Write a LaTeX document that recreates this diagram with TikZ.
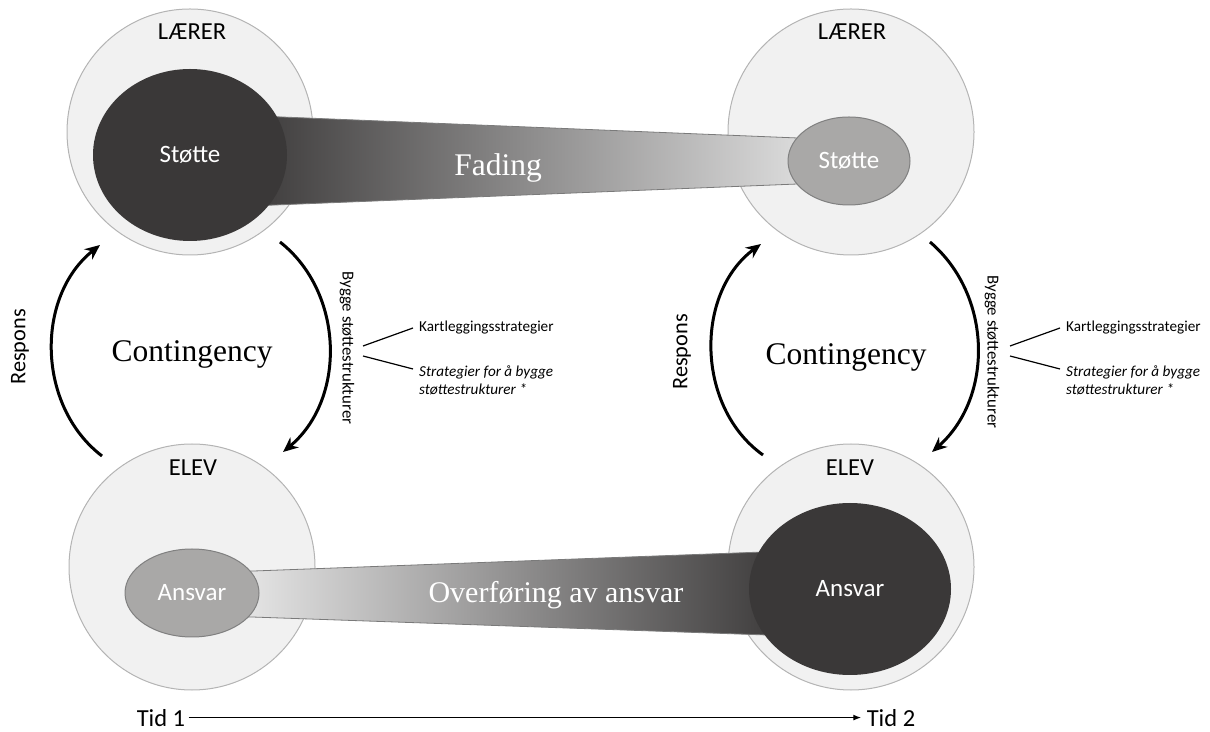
\documentclass[tikz,border=0pt]{standalone}
\usepackage{fontspec}
\setmainfont{Carlito}
\newfontfamily\titlefont{Liberation Serif}
\usetikzlibrary{shapes.geometric,arrows.meta}
\definecolor{ringfill}{HTML}{F1F1F1}
\definecolor{ringline}{HTML}{B4B4B4}
\definecolor{darkfill}{HTML}{3A3838}
\definecolor{lightfill}{HTML}{A9A8A7}
\definecolor{lightline}{HTML}{808080}
\definecolor{bandlight}{HTML}{DEDEDE}
\definecolor{bandpale}{HTML}{E8E8E8}
\definecolor{bandmid}{HTML}{6E6C6B}
\definecolor{bandline}{HTML}{7A7A7A}
\begin{document}
\begin{tikzpicture}[x=1pt,y=1pt,
    ring/.style={circle,draw=ringline,fill=ringfill,line width=1pt,minimum size=246pt,inner sep=0pt},
    bigspot/.style={ellipse,fill=darkfill,text=white,inner sep=0pt,font=\fontsize{25}{29}\selectfont},
    smallspot/.style={ellipse,draw=lightline,fill=lightfill,line width=1pt,text=white,inner sep=0pt,font=\fontsize{25}{29}\selectfont},
    role/.style={font=\fontsize{24.5}{28}\selectfont},
    bigword/.style={anchor=base,font=\titlefont\fontsize{31.5}{36}\selectfont},
    loopar/.style={line width=3pt,-{Stealth[length=15pt,width=13pt]}},
    sideword/.style={font=\fontsize{22.3}{26}\selectfont,rotate=90},
    buildword/.style={font=\fontsize{16.8}{20}\selectfont,rotate=-90},
    note/.style={anchor=west,align=left,inner sep=0pt,font=\fontsize{15.2}{18}\selectfont},
    band/.style={draw=bandline,line width=0.8pt}]
  \useasboundingbox (0,0) rectangle (1210,731);
  \node[ring] (ringTL) at (190,599) {};
  \node[ring] (ringTR) at (851,599) {};
  \node[ring] (ringBL) at (192,164) {};
  \node[ring] (ringBR) at (851,164) {};
  \shadedraw[band,left color=darkfill,middle color=bandmid,right color=bandlight]
    (240,615.7) -- (810,592.5) -- (810,547.5) -- (240,524.6) -- cycle;
  \shadedraw[band,left color=bandpale,middle color=bandmid,right color=darkfill]
    (235,159.3) -- (790,180) -- (790,95.2) -- (235,114.6) -- cycle;
  \node[bigspot,minimum width=194pt,minimum height=172pt] (stotteA) at (190,576) {Støtte};
  \node[smallspot,minimum width=122pt,minimum height=88pt] (stotteB) at (849,570) {Støtte};
  \node[smallspot,minimum width=134pt,minimum height=88pt] (ansvarA) at (192,138) {Ansvar};
  \node[bigspot,minimum width=202pt,minimum height=172pt] (ansvarB) at (850,142) {Ansvar};
  \node[role] (laererA) at (192,699) {LÆRER};
  \node[role] (laererB) at (852,699) {LÆRER};
  \node[role] (elevA) at (193,263) {ELEV};
  \node[role] (elevB) at (850,263) {ELEV};
  \node[bigword,text=white] (fading) at (498,555) {Fading};
  \node[bigword,text=white,font=\titlefont\fontsize{30}{34}\selectfont] (overforing) at (556,128) {Overføring av ansvar};
  \node[bigword] (contA) at (192,369) {Contingency};
  \node[bigword] (contB) at (846,366) {Contingency};
  \coordinate (respA0) at (102,275);
  \coordinate (respA1) at (100,486);
  \coordinate (byggA0) at (280,489);
  \coordinate (byggA1) at (283,279);
  \coordinate (respB0) at (763,276);
  \coordinate (respB1) at (761,487);
  \coordinate (byggB0) at (930,489);
  \coordinate (byggB1) at (932,279);
  \draw[loopar] (respA0) to[bend left=52] (respA1);
  \draw[loopar] (byggA0) to[bend left=51] (byggA1);
  \draw[loopar] (respB0) to[bend left=54] (respB1);
  \draw[loopar] (byggB0) to[bend left=49] (byggB1);
  \node[sideword] (responsA) at (20,384) {Respons};
  \node[sideword] (responsB) at (682,379) {Respons};
  \node[buildword] (byggeA) at (347,383) {Bygge støttestrukturer};
  \node[buildword] (byggeB) at (992,379) {Bygge støttestrukturer};
  \node[note] (kartA) at (419,403) {Kartleggingsstrategier};
  \node[note,font=\fontsize{15.2}{18}\selectfont\itshape] (stratA) at (419,351) {Strategier for å bygge\\støttestrukturer *};
  \node[note] (kartB) at (1066,403) {Kartleggingsstrategier};
  \node[note,font=\fontsize{15.2}{18}\selectfont\itshape] (stratB) at (1066,351) {Strategier for å bygge\\støttestrukturer *};
  \coordinate (splitA1) at (363,385);
  \coordinate (splitA2) at (363,375);
  \coordinate (splitB1) at (1010,385);
  \coordinate (splitB2) at (1010,375);
  \begin{scope}[line width=1.2pt]
    \draw (splitA1) -- ([xshift=-6pt]kartA.west);
    \draw (splitA2) -- ([xshift=-6pt,yshift=11pt]stratA.west);
    \draw (splitB1) -- ([xshift=-6pt]kartB.west);
    \draw (splitB2) -- ([xshift=-6pt,yshift=11pt]stratB.west);
  \end{scope}
  \node[anchor=base,font=\fontsize{24.5}{28}\selectfont] (tid1) at (161,5) {Tid 1};
  \node[anchor=base,font=\fontsize{24.5}{28}\selectfont] (tid2) at (891,5) {Tid 2};
  \draw[line width=1.3pt,-{Latex[length=8pt,width=6pt]},shorten >=2pt] (tid1.east) -- (tid2.west);
\end{tikzpicture}
\end{document}
